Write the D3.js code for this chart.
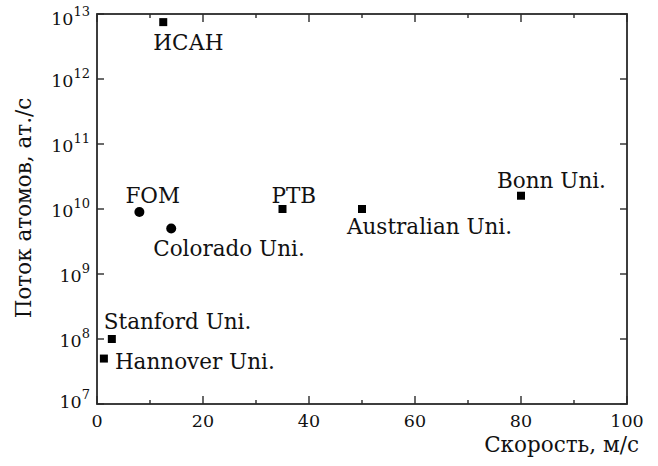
<!DOCTYPE html>
<html><head><meta charset="utf-8">
<script src="https://cdn.jsdelivr.net/npm/d3@7"></script>
<style>body{margin:0;background:#fff}svg{display:block}</style>
</head><body>
<svg id="c" width="658" height="466" font-family="'DejaVu Serif', 'Liberation Serif', serif"></svg>
<script>
const labels = ["ИСАН","FOM","Colorado Uni.","PTB","Australian Uni.","Bonn Uni.","Stanford Uni.","Hannover Uni."];
const speeds = [12.5, 8, 14, 35, 50, 80, 2.8, 1.3];
const fluxes = [7.5e12, 9e9, 5e9, 1e10, 1e10, 1.6e10, 1e8, 5e7];
const shapes = ["square","circle","circle","square","square","square","square","square"];
const xTicks = [0,20,40,60,80,100];
const xMinor = [10,30,50,70,90];
const yExps = [7,8,9,10,11,12,13];
const labelDx = [-10,-14,-18,-11,-15,-24,-8,11];
const labelDy = [28,-9,27,-6,25,-8,-10,10];

const svg = d3.select("#c");
const m = {l:97, r:627, t:14, b:404};
const x = d3.scaleLinear().domain([0,100]).range([m.l,m.r]);
const y = d3.scaleLog().domain([1e7,1e13]).range([m.b,m.t]);
const col = "#2a2a2a";
const fs = 21.5, tfs = 17.5;

svg.append("rect").attr("x",m.l).attr("y",m.t).attr("width",m.r-m.l).attr("height",m.b-m.t)
  .attr("fill","none").attr("stroke",col).attr("stroke-width",1.8);

const g = svg.append("g").attr("stroke",col).attr("stroke-width",1.4);
xTicks.forEach(v=>{
  g.append("line").attr("x1",x(v)).attr("x2",x(v)).attr("y1",m.b).attr("y2",m.b-8);
  g.append("line").attr("x1",x(v)).attr("x2",x(v)).attr("y1",m.t).attr("y2",m.t+8);
});
xMinor.forEach(v=>{
  g.append("line").attr("x1",x(v)).attr("x2",x(v)).attr("y1",m.b).attr("y2",m.b-4);
  g.append("line").attr("x1",x(v)).attr("x2",x(v)).attr("y1",m.t).attr("y2",m.t+4);
});
yExps.forEach(e=>{
  const yy = y(Math.pow(10,e));
  g.append("line").attr("x1",m.l).attr("x2",m.l+7).attr("y1",yy).attr("y2",yy);
  g.append("line").attr("x1",m.r).attr("x2",m.r-7).attr("y1",yy).attr("y2",yy);
});

xTicks.forEach(v=>{
  svg.append("text").attr("x",x(v)).attr("y",m.b+23).attr("text-anchor","middle")
    .attr("font-size",tfs).attr("fill","#111").text(v);
});
yExps.forEach(e=>{
  const yy = y(Math.pow(10,e));
  const off = e===13 ? 11 : (e===7 ? 4 : 8);
  const t = svg.append("text").attr("x",90).attr("y",yy+off).attr("text-anchor","end").attr("font-size",tfs).attr("fill","#111");
  t.append("tspan").text("10");
  t.append("tspan").attr("font-size",13).attr("dy",-9).text(e);
});

svg.append("text").attr("x",639).attr("y",452).attr("text-anchor","end").attr("font-size",21.5).attr("fill","#111")
  .text("Скорость, м/с");
svg.append("text").attr("transform","translate(31,208) rotate(-90)").attr("text-anchor","middle")
  .attr("font-size",fs).attr("fill","#111").text("Поток атомов, ат./с");

labels.forEach((lab,i)=>{
  const px = x(speeds[i]), py = y(fluxes[i]);
  if (shapes[i]==="circle") {
    svg.append("circle").attr("cx",px).attr("cy",py).attr("r",5).attr("fill","#000");
  } else {
    svg.append("rect").attr("x",px-4).attr("y",py-4).attr("width",8).attr("height",8).attr("fill","#000");
  }
  svg.append("text").attr("x",px+labelDx[i]).attr("y",py+labelDy[i]).attr("font-size",fs).attr("fill","#111").text(lab);
});
</script>
</body></html>
